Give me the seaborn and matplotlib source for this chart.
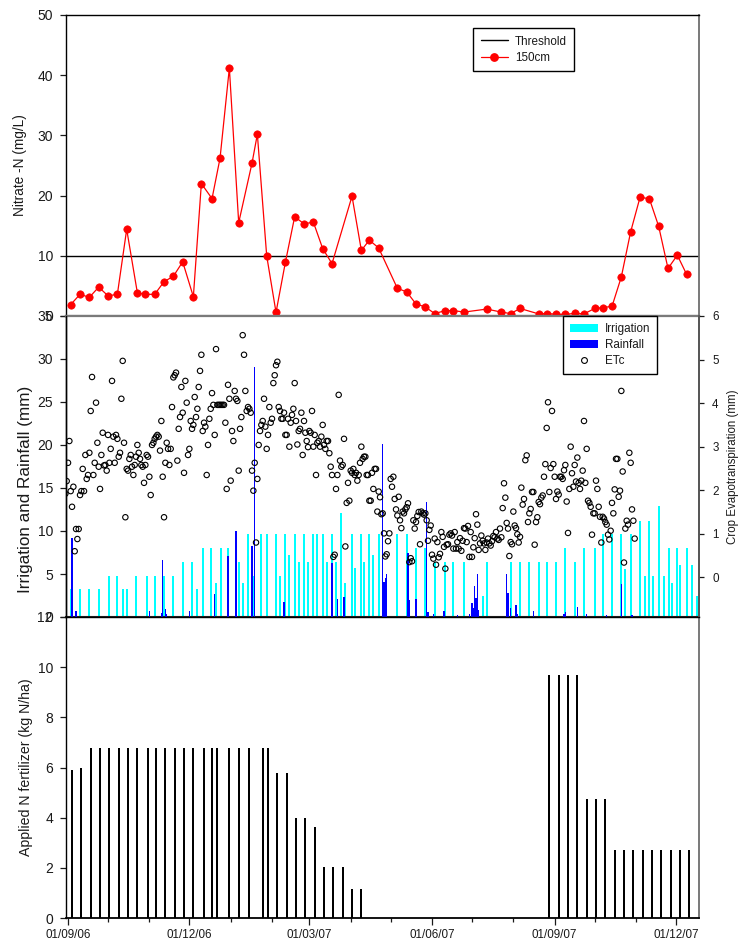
import numpy as np
import pandas as pd
import matplotlib
matplotlib.use("Agg")
import matplotlib.pyplot as plt
import matplotlib.dates as mdates
from matplotlib.lines import Line2D
from matplotlib.patches import Patch
import seaborn as sns

sns.set_theme(style="ticks")
plt.rcParams['font.family'] = ['Liberation Sans', 'DejaVu Sans']

# ---------------- data ----------------
nitrate_dates = [
    "2006-09-03", "2006-09-10", "2006-09-17", "2006-09-24", "2006-10-01", "2006-10-08",
    "2006-10-15", "2006-10-23", "2006-10-29", "2006-11-05", "2006-11-12", "2006-11-19",
    "2006-11-26", "2006-12-04", "2006-12-10", "2006-12-18", "2006-12-24", "2006-12-31",
    "2007-01-07", "2007-01-17", "2007-01-21", "2007-01-28", "2007-02-04", "2007-02-11",
    "2007-02-18", "2007-02-25", "2007-03-04", "2007-03-11", "2007-03-18", "2007-04-02",
    "2007-04-09", "2007-04-15", "2007-04-22", "2007-05-06", "2007-05-13", "2007-05-20",
    "2007-05-27", "2007-06-03", "2007-06-11", "2007-06-17", "2007-06-25", "2007-07-12",
    "2007-07-23", "2007-07-30", "2007-08-06", "2007-08-20", "2007-08-26", "2007-09-02",
    "2007-09-09", "2007-09-16", "2007-09-23", "2007-10-01", "2007-10-07", "2007-10-14",
    "2007-10-21", "2007-10-28", "2007-11-04", "2007-11-11", "2007-11-18", "2007-11-25",
    "2007-12-02", "2007-12-09",
]
nitrate_150cm = [
    1.9, 3.6, 3.1, 4.8, 3.35, 3.6, 14.4, 3.85, 3.6, 3.6, 5.7, 6.6,
    9.0, 3.2, 22.0, 19.5, 26.2, 41.2, 15.5, 25.4, 30.2, 10.0, 0.6, 8.9,
    16.5, 15.3, 15.6, 11.2, 8.7, 19.9, 10.9, 12.6, 11.3, 4.6, 4.0, 2.0,
    1.5, 0.4, 0.9, 0.9, 0.65, 1.15, 0.65, 0.4, 1.25, 0.35, 0.4, 0.3,
    0.25, 0.45, 0.35, 1.25, 1.4, 1.6, 6.5, 14.0, 19.7, 19.5, 14.9, 7.9,
    10.1, 6.9,
]
threshold = 10

etc_start = "2006-08-30"   # daily crop evapotranspiration (mm)
etc_mm = [
    1.92, 2.21, 2.63, 3.13, 1.98, 1.62, 2.08, 0.60, 1.11, 0.88,
    1.11, 1.89, 1.98, 2.49, 1.98, 2.81, 2.26, 2.35, 2.86, 3.82,
    4.60, 2.35, 2.63, 4.01, 3.09, 2.54, 2.03, 2.81, 3.32, 2.57,
    2.58, 2.45, 3.27, 2.63, 2.95, 4.51, 3.23, 2.63, 3.27, 3.18,
    2.77, 2.86, 4.10, 4.97, 3.09, 1.38, 2.49, 2.45, 2.72, 2.81,
    2.54, 2.35, 2.58, 2.77, 3.04, 2.86, 2.72, 2.58, 2.54, 2.17,
    2.58, 2.81, 2.77, 2.31, 1.89, 3.04, 3.09, 3.18, 3.23, 3.27,
    3.23, 2.91, 3.59, 2.31, 1.38, 2.63, 3.09, 2.95, 2.58,
    2.95, 3.91, 4.59, 4.64, 4.70, 2.68, 3.41, 3.68, 4.37, 3.78,
    2.40, 4.51, 4.01, 2.81, 2.95, 3.59, 3.41, 3.50, 4.14, 3.68,
    3.87, 4.37, 4.74, 5.11, 3.36, 3.55, 3.46, 2.35, 3.04, 3.64,
    3.87, 4.23, 3.96, 3.27, 5.24, 3.96, 3.96, 3.96, 3.96, 3.96,
    3.96, 3.55, 2.03, 4.42, 4.10, 2.22, 3.36, 3.13, 4.28, 4.10,
    4.05, 2.45, 3.41, 3.68, 5.56, 5.11, 4.28, 3.82, 3.91, 3.87,
    3.78, 2.45, 1.99, 2.63, 0.80, 2.26, 3.04, 3.36, 3.50, 3.59,
    4.10, 3.46, 2.95, 3.27, 3.91, 3.55, 3.64, 4.46, 4.64, 4.87,
    4.95, 3.91, 3.82, 3.64, 3.64, 3.78, 3.27, 3.27, 3.64, 3.00,
    3.55, 3.73, 3.87, 4.46, 3.59, 3.05, 3.36, 3.41, 3.78, 2.81,
    3.59, 3.32, 3.13, 2.99, 3.36, 3.32, 3.82, 3.00, 3.27, 2.35,
    3.09, 3.13, 3.00, 3.23, 3.50, 3.04, 2.95, 3.13, 3.13, 2.85,
    2.54, 2.35, 0.47, 0.52, 2.03, 2.35, 4.19, 2.68, 2.54, 2.58,
    3.18, 0.71, 1.71, 2.17, 1.76, 2.45, 2.40, 2.49, 2.35, 2.40,
    2.22, 2.35, 2.63, 3.00, 2.72, 2.77, 2.77, 2.35, 2.35, 1.76,
    1.76, 2.40, 2.03, 2.49, 2.49, 1.51, 1.97, 1.84, 1.45,
    1.47, 1.01, 0.48, 0.53, 0.83, 1.01, 2.26, 2.08, 2.31, 1.80,
    1.56, 1.42, 1.85, 1.31, 1.13, 1.51, 1.47, 1.56, 1.61, 1.70,
    0.35, 0.44, 0.37, 1.31, 1.12, 1.27, 1.41, 1.50, 0.76, 1.51,
    1.47, 1.44, 1.47, 1.31, 0.84, 1.09, 1.19, 0.52, 0.43, 0.89,
    0.29, 0.81, 0.46, 0.54, 1.04, 0.93, 0.70, 0.20, 0.75, 0.76,
    0.98, 1.01, 0.96, 0.66, 1.04, 0.66, 0.81, 0.66, 0.90, 0.61,
    0.84, 1.13, 1.12, 0.81, 1.18, 0.47, 1.04, 0.47, 0.69, 0.90,
    1.45, 1.21, 0.63, 0.78, 0.96, 0.84, 0.78, 0.63, 0.80, 0.89,
    0.78, 0.73, 0.83, 0.95, 0.92, 1.04, 0.89, 0.86, 1.12, 0.92,
    1.59, 2.16, 1.83, 1.25, 1.12, 0.49, 0.81, 0.76, 1.51, 1.19,
    1.13, 0.99, 0.80, 0.93, 2.06, 1.67, 1.80, 2.69, 2.80, 1.27,
    1.47, 1.57, 1.96, 1.96, 0.75, 1.27, 1.38, 1.73, 1.68, 1.83,
    1.88, 2.31, 2.60, 3.43, 4.02, 1.96, 2.51, 3.82, 2.60, 2.31,
    1.80, 1.97, 1.90, 2.31, 2.31, 2.26, 2.46, 2.58, 1.74, 1.02,
    2.03, 3.00, 2.39, 2.08, 2.58, 2.20, 2.75, 2.17, 2.03, 2.22,
    2.45, 3.59, 2.17, 2.95, 1.76, 1.71, 1.62, 0.98, 1.47,
    1.47, 2.22, 2.03, 1.62, 1.39, 0.80, 1.39, 1.35, 1.27, 1.21,
    0.98, 0.87, 1.07, 1.71, 1.47, 2.02, 2.72, 2.72, 1.85, 1.99,
    4.28, 2.43, 0.34, 1.12, 1.30, 1.21, 2.86, 2.63, 1.56, 1.30,
    0.89,
]

irrigation_dates = [
    "2006-09-03", "2006-09-10", "2006-09-17", "2006-09-24", "2006-10-02", "2006-10-08",
    "2006-10-12", "2006-10-15", "2006-10-22", "2006-10-30", "2006-11-05", "2006-11-12",
    "2006-11-19", "2006-11-26", "2006-12-03", "2006-12-07", "2006-12-11", "2006-12-17",
    "2006-12-21", "2006-12-25", "2006-12-30",
    "2007-01-07", "2007-01-10", "2007-01-14", "2007-01-18", "2007-01-24", "2007-01-28",
    "2007-02-04", "2007-02-07", "2007-02-11", "2007-02-14", "2007-02-18", "2007-02-21",
    "2007-02-25", "2007-02-28",
    "2007-03-04", "2007-03-07", "2007-03-11", "2007-03-14", "2007-03-18", "2007-03-21",
    "2007-03-25", "2007-03-28",
    "2007-04-02", "2007-04-04", "2007-04-09", "2007-04-11", "2007-04-15", "2007-04-18",
    "2007-04-22",
    "2007-05-06", "2007-05-13", "2007-05-20", "2007-05-27",
    "2007-06-03", "2007-06-11", "2007-06-17", "2007-06-25",
    "2007-07-09", "2007-07-12",
    "2007-07-30", "2007-08-06", "2007-08-13", "2007-08-20", "2007-08-26",
    "2007-09-02", "2007-09-09", "2007-09-16", "2007-09-23",
    "2007-10-01", "2007-10-07", "2007-10-14", "2007-10-21", "2007-10-24", "2007-10-28",
    "2007-11-04", "2007-11-08", "2007-11-11", "2007-11-14", "2007-11-18", "2007-11-22",
    "2007-11-26", "2007-11-28",
    "2007-12-02", "2007-12-04", "2007-12-09", "2007-12-13", "2007-12-17",
]
irrigation_mm = [
    3.3, 3.3, 3.3, 3.3, 4.8, 4.8, 3.3, 3.3, 4.8, 4.8, 4.8, 4.8,
    4.8, 6.4, 6.4, 3.3, 8.0, 8.0, 4.0, 8.0, 8.0,
    6.4, 4.0, 9.7, 4.8, 9.7, 9.7,
    9.7, 4.8, 9.7, 7.2, 9.7, 6.4, 9.7, 6.4,
    9.7, 9.7, 9.7, 6.4, 9.7, 6.4, 12.1, 4.0,
    9.7, 5.7, 9.7, 6.4, 9.7, 7.2, 9.7,
    9.7, 9.7, 8.0, 8.0,
    6.4, 6.4, 6.4, 6.4,
    2.4, 6.4,
    6.4, 6.4, 6.4, 6.4, 6.4,
    6.4, 8.0, 6.4, 8.0,
    8.0, 9.7, 9.7, 9.7, 5.6, 9.7,
    11.2, 4.8, 11.2, 4.8, 12.9, 4.8, 8.0, 4.0,
    8.0, 6.0, 8.0, 6.0, 2.5,
]

rain_dates = [
    "2006-09-04", "2006-09-07", "2006-11-01", "2006-11-10", "2006-11-11", "2006-11-13",
    "2006-11-14", "2006-12-01", "2006-12-20", "2006-12-30",
    "2007-01-05", "2007-01-17", "2007-01-19", "2007-02-10", "2007-03-18", "2007-03-22",
    "2007-03-27", "2007-04-25", "2007-04-26", "2007-04-27", "2007-04-28",
    "2007-05-14", "2007-05-15", "2007-05-20", "2007-05-28", "2007-05-29",
    "2007-06-02", "2007-06-10", "2007-06-20", "2007-06-29",
    "2007-07-01", "2007-07-02", "2007-07-03", "2007-07-04", "2007-07-05", "2007-07-06",
    "2007-07-27", "2007-07-28", "2007-07-30", "2007-08-03", "2007-08-04", "2007-08-16",
    "2007-09-08", "2007-09-09", "2007-09-18", "2007-09-25",
    "2007-10-10", "2007-10-21", "2007-10-29",
]
rain_mm = [
    9.2, 0.66, 0.66, 0.5, 6.6, 0.9,
    0.4, 0.66, 2.67, 7.05,
    10.0, 8.3, 29.1, 1.8, 6.3, 2.05,
    2.3, 20.1, 4.1, 4.5, 5.0,
    7.5, 2.0, 2.05, 13.4, 0.6,
    0.4, 0.66, 0.2, 0.4,
    1.67, 1.0, 3.6, 2.2, 5.0, 0.8,
    5.0, 2.8, 1.05, 1.43, 0.3, 0.66,
    0.35, 0.55, 1.16, 0.4,
    0.27, 3.84, 0.27,
]

fert_dates = [
    "2006-09-04", "2006-09-11", "2006-09-18", "2006-09-25", "2006-10-02", "2006-10-09",
    "2006-10-16", "2006-10-23", "2006-10-31", "2006-11-06", "2006-11-13", "2006-11-20",
    "2006-11-27", "2006-12-04", "2006-12-12", "2006-12-18", "2006-12-22", "2006-12-31",
    "2007-01-07", "2007-01-15", "2007-01-25", "2007-01-29", "2007-02-05", "2007-02-12",
    "2007-02-19", "2007-02-26", "2007-03-05", "2007-03-12", "2007-03-19", "2007-03-26",
    "2007-04-02", "2007-04-09",
    "2007-08-28", "2007-09-04", "2007-09-11", "2007-09-18", "2007-09-25", "2007-10-02",
    "2007-10-09", "2007-10-16", "2007-10-23", "2007-10-30", "2007-11-06", "2007-11-13",
    "2007-11-20", "2007-11-27", "2007-12-04", "2007-12-11",
]
fert_kg = [
    5.9, 6.0, 6.76, 6.76, 6.76, 6.76, 6.76, 6.76, 6.76, 6.76, 6.76, 6.76,
    6.76, 6.76, 6.76, 6.76, 6.76, 6.76, 6.76, 6.76, 6.76, 6.76, 5.78, 5.78,
    3.97, 3.97, 3.61, 2.03, 2.03, 2.03, 1.16, 1.16,
    9.68, 9.68, 9.68, 9.68, 4.73, 4.73, 4.73, 2.71, 2.71, 2.71, 2.71, 2.71,
    2.71, 2.71, 2.71, 2.71,
]

# ---------------- frames ----------------
nit = pd.DataFrame({"date": pd.to_datetime(nitrate_dates), "no3": nitrate_150cm})
etc = pd.DataFrame({"date": pd.date_range(etc_start, periods=len(etc_mm), freq="D"),
                    "etc": etc_mm})
irr_d = pd.to_datetime(irrigation_dates)
rain_d = pd.to_datetime(rain_dates)
fert_d = pd.to_datetime(fert_dates)

# ---------------- figure ----------------
W_PX, H_PX = 739, 942
fig = plt.figure(figsize=(W_PX / 100, H_PX / 100), dpi=100)
x0, x1 = 65.5, 699.0
L, W = x0 / W_PX, (x1 - x0) / W_PX
panel_h = 301 / H_PX
ax_top = fig.add_axes([L, 1 - 316 / H_PX, W, panel_h])
ax_mid = fig.add_axes([L, 1 - 617 / H_PX, W, panel_h], sharex=ax_top)
ax_bot = fig.add_axes([L, 1 - 918 / H_PX, W, panel_h], sharex=ax_top)
ax_et = ax_mid.twinx()

TXT = "#1a1a1a"
YT_FS = 10
XT_FS = 8.4
LEG_FS = 8.4

# ---- top panel: nitrate ----
ax_top.axhline(threshold, color="black", lw=1.0, zorder=2)
sns.lineplot(data=nit, x="date", y="no3", ax=ax_top, color="red", lw=0.9,
             marker="o", markersize=5.3, markeredgecolor="red", markeredgewidth=0.5,
             legend=False, clip_on=False, zorder=3, sort=False)
ax_top.set_ylim(0, 50)
ax_top.set_yticks([0, 10, 20, 30, 40, 50])
ax_top.set_ylabel("Nitrate -N (mg/L)", fontsize=9.8, color=TXT)
ax_top.yaxis.set_label_coords(-0.061, 0.5)
ax_top.tick_params(axis="x", which="both", bottom=False, top=False, labelbottom=False)
ax_top.set_xlabel("")
leg1 = ax_top.legend(
    handles=[Line2D([], [], color="black", lw=1.0),
             Line2D([], [], color="red", lw=0.9, marker="o", markersize=5.3)],
    labels=["Threshold", "150cm"], loc="upper left",
    bbox_to_anchor=((473.3 - x0) / (x1 - x0), 0.957), borderaxespad=0,
    fontsize=LEG_FS, frameon=True, fancybox=False, framealpha=1, edgecolor="black",
    handlelength=2.3, handletextpad=0.6, labelspacing=0.35, borderpad=0.65)
leg1.get_frame().set_linewidth(1.0)
for t in leg1.get_texts():
    t.set_color(TXT)

# ---- middle panel: irrigation, rainfall, ETc ----
ax_mid.bar(irr_d, irrigation_mm, width=1.5, color="#00FFFF", linewidth=0, zorder=2)
ax_mid.bar(rain_d, rain_mm, width=1.2, color="#0000FF", linewidth=0, zorder=3)
ax_mid.set_ylim(0, 35)
ax_mid.set_yticks(np.arange(0, 36, 5))
ax_mid.set_ylabel("Irrigation and Rainfall (mm)", fontsize=12.3, color=TXT)
ax_mid.yaxis.set_label_coords(-0.051, 0.423)
ax_mid.tick_params(axis="x", which="both", bottom=True, labelbottom=False,
                   length=4, width=0.9, color="#333333", direction="out")

sns.scatterplot(data=etc, x="date", y="etc", ax=ax_et, marker="o", s=15,
                facecolor="none", edgecolor="black", linewidth=0.8, legend=False,
                zorder=4)
ax_et.set_ylim(-0.91, 6)
ax_et.set_yticks([0, 1, 2, 3, 4, 5, 6])
ax_et.set_ylabel("Crop Evapotranspiration (mm)", fontsize=8.3, color=TXT)
ax_et.yaxis.set_label_coords(1.044, 0.5)
ax_et.tick_params(axis="y", labelsize=XT_FS, length=3.5, width=0.9, pad=6,
                  colors=TXT, direction="out")
ax_et.set_xlabel("")
leg2 = ax_et.legend(
    handles=[Patch(facecolor="#00FFFF", edgecolor="none"),
             Patch(facecolor="#0000FF", edgecolor="none"),
             Line2D([], [], lw=0, marker="o", markersize=4.2, markerfacecolor="none",
                    markeredgecolor="black", markeredgewidth=0.8)],
    labels=["Irrigation", "Rainfall", "ETc"], loc="upper left",
    bbox_to_anchor=((563.3 - x0) / (x1 - x0), 1.0), borderaxespad=0,
    fontsize=LEG_FS, frameon=True, fancybox=False, framealpha=1, edgecolor="black",
    handlelength=2.4, handleheight=0.75, handletextpad=0.55, labelspacing=0.35,
    borderpad=0.6)
leg2.get_frame().set_linewidth(1.0)
for t in leg2.get_texts():
    t.set_color(TXT)

# ---- bottom panel: fertilizer ----
ax_bot.bar(fert_d, fert_kg, width=1.6, color="black", linewidth=0, zorder=2)
ax_bot.set_ylim(0, 12)
ax_bot.set_yticks(np.arange(0, 13, 2))
ax_bot.set_ylabel("Applied N fertilizer (kg N/ha)", fontsize=10.2, color=TXT)
ax_bot.yaxis.set_label_coords(-0.051, 0.5)

# ---- shared x axis ----
start = mdates.date2num(pd.Timestamp("2006-09-01")) - 1.9
end = mdates.date2num(pd.Timestamp("2006-09-01")) + 473.25
ax_bot.set_xlim(start, end)
ax_bot.xaxis.set_major_locator(mdates.MonthLocator(bymonth=[3, 6, 9, 12]))
ax_bot.xaxis.set_major_formatter(mdates.DateFormatter("%d/%m/%y"))
ax_bot.xaxis.set_minor_locator(mdates.MonthLocator())
ax_bot.tick_params(axis="x", which="major", length=5, width=0.9, labelsize=XT_FS,
                   pad=3, colors=TXT, direction="out")
ax_bot.tick_params(axis="x", which="minor", length=3, width=0.9, color=TXT,
                   direction="out")
ax_bot.set_xlabel("")
ax_mid.tick_params(axis="x", which="both", length=4, width=0.9, labelbottom=False)

for ax in (ax_top, ax_mid, ax_bot):
    ax.tick_params(axis="y", which="major", labelsize=YT_FS, length=4, width=0.9,
                   pad=5, colors=TXT, direction="out")
    ax.tick_params(axis="y", which="both", right=False)
    ax.set_facecolor("white")
    ax.grid(False)

# spines
for ax in (ax_top, ax_mid, ax_bot, ax_et):
    for s in ax.spines.values():
        s.set_visible(True)
        s.set_linewidth(1.0)
        s.set_color("black")
for ax in (ax_top, ax_mid, ax_bot):
    ax.spines["right"].set_color("#6e6e6e")
    ax.spines["right"].set_linewidth(1.3)
ax_et.spines["right"].set_color("#555555")
ax_et.spines["right"].set_linewidth(1.3)
ax_top.spines["bottom"].set_color("#7a7a7a")
ax_top.spines["bottom"].set_linewidth(1.6)
ax_mid.spines["top"].set_color("#7a7a7a")
ax_mid.spines["top"].set_linewidth(1.6)
ax_et.spines["top"].set_visible(False)
ax_mid.spines["bottom"].set_color("#222222")
ax_mid.spines["bottom"].set_linewidth(1.5)
ax_bot.spines["top"].set_visible(False)
ax_bot.spines["bottom"].set_linewidth(1.3)

fig.savefig("out.png", dpi=100)
